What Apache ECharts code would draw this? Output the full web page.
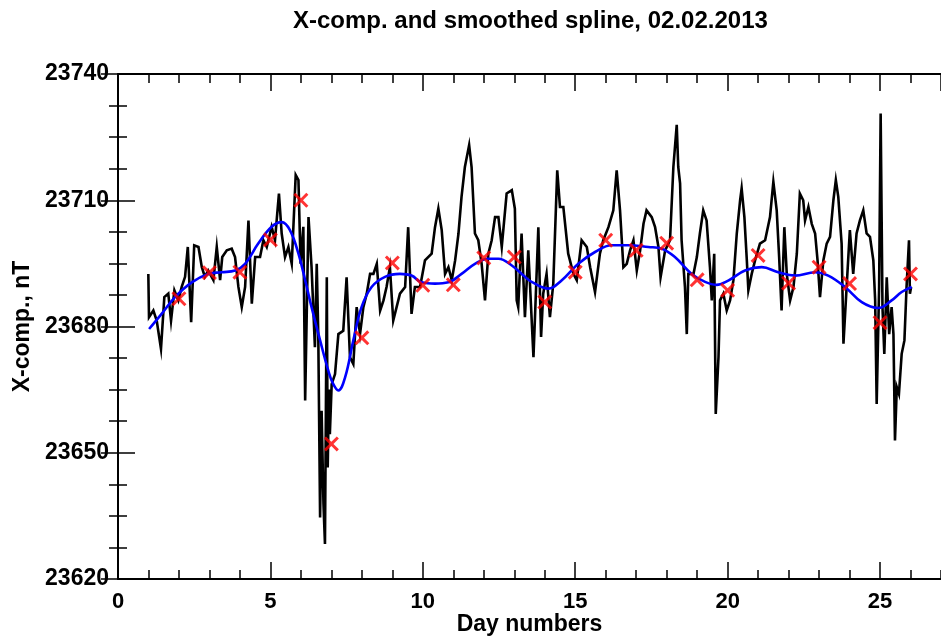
<!DOCTYPE html>
<html>
<head>
<meta charset="utf-8">
<script src="https://cdn.jsdelivr.net/npm/echarts@6/dist/echarts.min.js"></script>
<style>
html,body{margin:0;padding:0;background:#fff;}
#chart{width:941px;height:638px;}
</style>
</head>
<body>
<div id="chart"></div>
<script>
// ---- data ----
const titleText = 'X-comp. and smoothed spline, 02.02.2013';
const xName = 'Day numbers';
const yName = 'X-comp., nT';

// raw X-component trace (black)
const rawDays = [0.995,1.017,1.16,1.27,1.41,1.52,1.65,1.74,1.85,1.98,2.09,2.20,2.29,2.40,2.50,2.64,2.75,2.85,2.96,3.13,3.24,3.35,3.42,3.57,3.73,3.84,3.95,4.06,4.17,4.28,4.39,4.50,4.66,4.77,4.88,5.04,5.15,5.28,5.37,5.48,5.59,5.70,5.83,5.92,5.99,6.08,6.14,6.25,6.35,6.46,6.52,6.57,6.63,6.68,6.74,6.79,6.82,6.85,6.88,6.92,6.95,7.01,7.12,7.23,7.39,7.50,7.61,7.72,7.83,7.94,8.05,8.16,8.27,8.38,8.49,8.60,8.71,8.81,8.92,9.03,9.14,9.25,9.42,9.52,9.63,9.74,9.91,10.07,10.29,10.40,10.51,10.62,10.73,10.84,10.95,11.06,11.17,11.27,11.38,11.52,11.60,11.71,11.82,11.93,12.04,12.15,12.26,12.37,12.48,12.59,12.75,12.92,13.02,13.08,13.13,13.19,13.24,13.35,13.46,13.52,13.63,13.68,13.79,13.88,13.95,14.06,14.17,14.28,14.41,14.50,14.61,14.77,14.94,15.05,15.21,15.38,15.49,15.65,15.81,15.92,16.09,16.25,16.36,16.47,16.58,16.69,16.80,16.91,17.02,17.13,17.24,17.34,17.51,17.62,17.73,17.80,17.95,18.11,18.22,18.33,18.38,18.44,18.49,18.60,18.66,18.71,18.88,18.99,19.09,19.20,19.31,19.42,19.48,19.56,19.61,19.70,19.75,19.86,19.97,20.08,20.19,20.30,20.41,20.46,20.55,20.63,20.68,20.79,20.90,21.06,21.23,21.39,21.50,21.61,21.69,21.77,21.86,21.94,22.05,22.16,22.27,22.37,22.48,22.54,22.65,22.76,22.87,22.95,23.03,23.14,23.25,23.36,23.47,23.55,23.63,23.74,23.80,23.91,24.01,24.12,24.23,24.34,24.45,24.56,24.67,24.78,24.84,24.89,24.97,25.02,25.08,25.14,25.22,25.30,25.38,25.44,25.49,25.55,25.62,25.71,25.80,25.87,25.95,25.98,26.02];
const rawValues = [23692.5,23682.2,23683.8,23681.4,23674.7,23687.0,23687.8,23681.4,23688.6,23686.2,23689.4,23691.8,23698.9,23681.0,23699.3,23698.9,23694.1,23691.8,23693.3,23691.0,23698.9,23691.0,23696.5,23698.1,23698.5,23696.5,23689.4,23684.6,23689.4,23705.2,23685.4,23696.5,23696.5,23700.5,23698.9,23703.7,23700.5,23711.6,23702.1,23696.5,23698.9,23694.9,23716.0,23714.8,23694.9,23703.7,23662.4,23706.0,23694.1,23675.1,23694.9,23678.3,23634.6,23660,23638,23628.3,23660,23691.7,23646.5,23665,23654.4,23666.3,23668.7,23678.2,23679.0,23691.7,23672.7,23671.1,23684.6,23678.2,23684.6,23687.8,23692.5,23692.5,23694.9,23683.8,23686.2,23689.4,23694.1,23681.4,23684.6,23687.8,23689.4,23703.6,23683.0,23689.4,23689.4,23695.7,23697.3,23703.6,23708.0,23702.9,23692.5,23694.1,23691.0,23695.7,23702.1,23710.8,23717.9,23723.1,23717.9,23702.1,23700.5,23694.9,23686.2,23697.3,23700.5,23706.0,23706.0,23698.9,23711.6,23712.4,23708.0,23686.2,23684.6,23684.6,23702.1,23682.2,23698.1,23689.4,23672.7,23682.2,23703.6,23677.5,23687.8,23692.5,23682.2,23690.2,23717.1,23708.4,23708.4,23697.3,23692.5,23691.0,23700.5,23698.9,23694.1,23688.2,23697.3,23700.5,23703.6,23707.6,23717.1,23707.6,23694.1,23694.9,23698.1,23700.5,23693.3,23698.1,23704.4,23707.6,23706.0,23703.6,23698.9,23691.7,23698.1,23700.5,23717.9,23727.9,23717.9,23714.0,23700.5,23689.4,23678.2,23692.5,23692.5,23696.5,23702.1,23707.6,23705.2,23694.1,23686.2,23697.3,23659.2,23672.7,23686.2,23687.8,23683.8,23686.2,23691.0,23702.1,23710.0,23712.8,23706.0,23695.7,23688.6,23692.5,23695.7,23699.7,23700.5,23706.0,23714.4,23707.6,23696.5,23683.8,23703.6,23692.5,23686.2,23689.4,23697.3,23711.6,23710.0,23705.2,23708.4,23704.4,23702.1,23695.7,23687.0,23695.7,23699.7,23701.3,23710.0,23714.8,23710.8,23699.7,23675.9,23690.2,23702.9,23692.5,23702.1,23705.2,23707.6,23702.1,23701.3,23695.7,23686.2,23661.6,23689.4,23730.6,23684.6,23673.5,23691.7,23678.2,23684.6,23678.2,23652.9,23665.6,23664.0,23673.5,23676.7,23689.4,23700.5,23687.8,23689.4];

// smoothed spline (blue)
const splineDays = [1.02,1.43,1.87,2.42,2.96,3.40,3.84,4.17,4.60,5.04,5.37,5.64,5.92,6.14,6.35,6.63,6.90,7.05,7.23,7.45,7.72,7.99,8.32,8.76,9.25,9.63,9.96,10.40,10.84,11.27,11.71,12.15,12.48,12.92,13.35,13.57,14.12,14.56,15.10,15.65,16.20,16.74,17.40,17.84,18.27,18.82,19.26,19.64,20.02,20.57,21.12,21.66,22.21,22.87,23.30,23.85,24.40,24.94,25.38,25.71,26.04];
const splineValues = [23679.4,23683.0,23687.0,23690.5,23692.5,23692.9,23693.3,23694.9,23699.7,23703.7,23704.8,23702.9,23697.3,23691.0,23684.6,23676.7,23669.5,23666.5,23664.8,23667.9,23676.7,23684.6,23689.4,23691.8,23692.5,23692.1,23690.5,23690.2,23690.5,23692.5,23694.9,23696.1,23696.1,23694.5,23691.8,23690.6,23689.0,23691.0,23694.9,23697.7,23699.3,23699.3,23698.9,23698.5,23696.5,23692.5,23690.6,23689.9,23690.9,23693.3,23694.1,23692.9,23692.1,23692.9,23692.1,23689.4,23685.8,23684.4,23686.2,23688.2,23689.4];

// daily points (red crosses)
const crossDays = [2,3,4,5,6,7,8,9,10,11,12,13,14,15,16,17,18,19,20,21,22,23,24,25,26];
const crossValues = [23686.6,23692.8,23692.9,23700.6,23710.0,23652.1,23677.3,23695.1,23689.8,23689.9,23696.3,23696.5,23685.8,23692.9,23700.5,23698.1,23699.8,23691.1,23688.6,23696.9,23690.3,23694.1,23690.2,23680.9,23692.5];

// axis ticks
const xMin = 0, xMax = 27, xMajor = 5, xMinor = 1;
const yMin = 23620, yMax = 23740, yMajor = 30;

// ---- chart ----
const FONT = "'Liberation Sans', Arial, sans-serif";
const zip = (a, b) => a.map((v, i) => [v, b[i]]);
const chart = echarts.init(document.getElementById('chart'), null, {renderer: 'canvas'});

const majorTick = {show: true, inside: true, length: 17, lineStyle: {color: '#000', width: 1.5}};
const minorTickAx = {show: true, inside: true, length: 9, lineStyle: {color: '#000', width: 1.5}};
const axLine = {show: true, lineStyle: {color: '#000', width: 2}};
const labelStyle = {color: '#000', fontFamily: FONT, fontWeight: 'bold', fontSize: 23};

const crossPath = 'path://M0,1.4L1.4,0L5,3.6L8.6,0L10,1.4L6.4,5L10,8.6L8.6,10L5,6.4L1.4,10L0,8.6L3.6,5Z';

chart.setOption({
  animation: false,
  backgroundColor: '#fff',
  title: {
    text: titleText, left: 288, top: 4,
    textStyle: {color: '#000', fontFamily: FONT, fontWeight: 'bold', fontSize: 24}
  },
  grid: {left: 118, top: 74, width: 823, height: 505, containLabel: false, outerBoundsMode: 'none'},
  xAxis: [
    {type: 'value', position: 'bottom', min: xMin, max: xMax, interval: xMajor,
     axisLine: axLine, axisTick: majorTick, splitLine: {show: false},
     axisLabel: Object.assign({margin: 12, showMaxLabel: false}, labelStyle, {fontSize: 22}),
     name: xName, nameLocation: 'middle', nameGap: 34, nameMoveOverlap: false,
     nameTextStyle: {color: '#000', fontFamily: FONT, fontWeight: 'bold', fontSize: 23}},
    {type: 'value', position: 'bottom', min: xMin, max: xMax, interval: xMinor,
     axisLine: {show: false}, axisTick: minorTickAx, axisLabel: {show: false}, splitLine: {show: false}},
    {type: 'value', position: 'top', min: xMin, max: xMax, interval: xMajor,
     axisLine: axLine, axisTick: majorTick, axisLabel: {show: false}, splitLine: {show: false}},
    {type: 'value', position: 'top', min: xMin, max: xMax, interval: xMinor,
     axisLine: {show: false}, axisTick: minorTickAx, axisLabel: {show: false}, splitLine: {show: false}}
  ],
  yAxis: [
    {type: 'value', position: 'left', min: yMin, max: yMax, interval: yMajor,
     axisLine: axLine, axisTick: majorTick,
     minorTick: {show: true, splitNumber: 4, length: 9, lineStyle: {color: '#000', width: 1.5}},
     splitLine: {show: false}, minorSplitLine: {show: false},
     axisLabel: Object.assign({margin: 9, formatter: v => String(v)}, labelStyle),
     name: yName, nameLocation: 'middle', nameGap: 84, nameRotate: 90, nameMoveOverlap: false,
     nameTextStyle: {color: '#000', fontFamily: FONT, fontWeight: 'bold', fontSize: 23}},
    {type: 'value', position: 'right', min: yMin, max: yMax, interval: yMajor,
     axisLine: {show: false}, axisTick: majorTick,
     minorTick: {show: true, splitNumber: 4, length: 9, lineStyle: {color: '#000', width: 1.5}},
     splitLine: {show: false}, axisLabel: {show: false}}
  ],
  series: [
    {type: 'line', name: 'raw', xAxisIndex: 0, yAxisIndex: 0, data: zip(rawDays, rawValues),
     showSymbol: false, symbol: 'none', lineStyle: {color: '#000', width: 2.6, join: 'miter'}, z: 2},
    {type: 'line', name: 'spline', xAxisIndex: 0, yAxisIndex: 0, data: zip(splineDays, splineValues),
     showSymbol: false, symbol: 'none', smooth: 0.4, lineStyle: {color: '#0000ff', width: 2.6}, z: 3},
    {type: 'scatter', name: 'daily', xAxisIndex: 0, yAxisIndex: 0, data: zip(crossDays, crossValues),
     symbol: crossPath, symbolSize: 15, itemStyle: {color: '#ff0000'}, z: 4}
  ]
});
</script>
</body>
</html>
